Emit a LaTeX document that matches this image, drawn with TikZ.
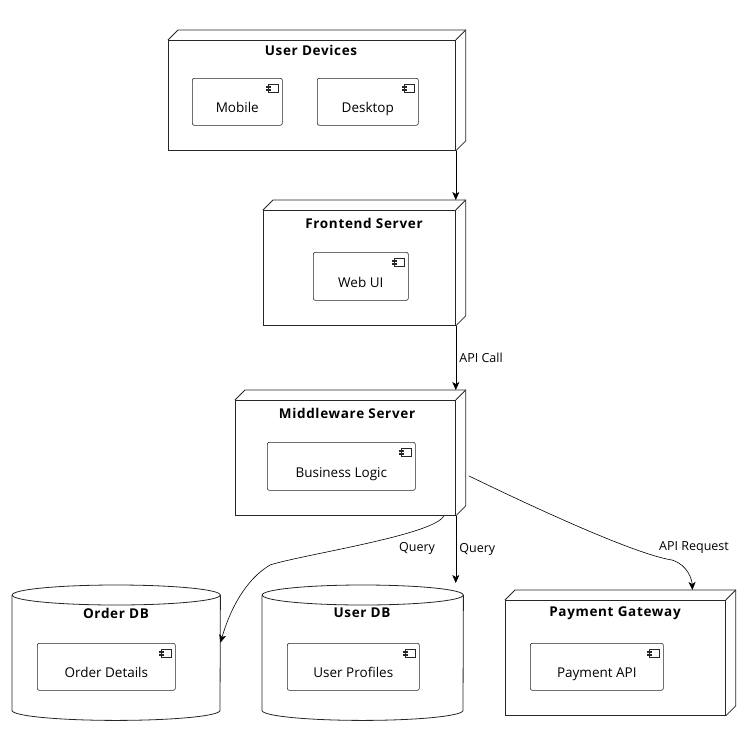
\documentclass[tikz,border=0pt]{standalone}
\usepackage{fontspec}
\setmainfont{Open Sans}
\usetikzlibrary{positioning,calc,arrows.meta}

\tikzset{
	box/.style={rectangle, draw=black!85, fill=white, thick, inner sep=0pt},
	comp/.style={rectangle, draw=black!85, semithick, rounded corners=2pt, fill=white, inner sep=0pt, text height=22pt, text depth=0pt, font=\fontsize{13.5}{16}\selectfont},
	title/.style={font=\fontsize{13.5}{16}\selectfont\bfseries\addfontfeatures{LetterSpace=5}},
	lbl/.style={font=\fontsize{12.5}{15}\selectfont},
	link/.style={-{Stealth[length=8pt,width=7pt,inset=2pt]}, semithick},
}
% extruded top and side of a node box
\newcommand{\depthbox}[1]{
	\draw[thick, black!85] (#1.north west) -- ++(10,-10) -- ($(#1.north east)+(10,-10)$) -- ($(#1.south east)+(10,-10)$) -- (#1.south east);
	\draw[thick, black!85] (#1.north east) -- ++(10,-10);
}
% small component glyph
\newcommand{\compicon}[1]{
	\draw[black!85, semithick] ($(#1.north east)+(-14,6)$) rectangle ++(10,8);
	\draw[black!85, fill=white] ($(#1.north east)+(-16,8)$) rectangle ++(4,1.5);
	\draw[black!85, fill=white] ($(#1.north east)+(-16,11)$) rectangle ++(4,1.5);
}
% database drum
\newcommand{\drum}[1]{
	\draw[thick, black!85] (#1.north west) -- (#1.south west) arc[start angle=180, end angle=360, x radius={0.5*\drumw}, y radius=10pt] -- (#1.north east);
	\draw[thick, black!85] (#1.north) ellipse[x radius={0.5*\drumw}, y radius=10pt];
}

\begin{document}
\begin{tikzpicture}[x=1pt, y=-1pt]
	\useasboundingbox (0,0) rectangle (750,750);

	% user devices
	\node [box, minimum width=287pt, minimum height=110pt, anchor=north west] (dev) at (168,40) {};
	\depthbox{dev}
	\node [title] (devt) at (311,50) {User Devices};
	\node [comp, minimum width=90pt, minimum height=47pt, anchor=north west] (mob) at (192,78) {Mobile};
	\node [comp, minimum width=101pt, minimum height=47pt, anchor=north west] (desk) at (317,78) {Desktop};
	\compicon{mob}
	\compicon{desk}

	% frontend
	\node [box, minimum width=192pt, minimum height=115pt, anchor=north west] (fe) at (263,210) {};
	\depthbox{fe}
	\node [title] (fet) at (364,223) {Frontend Server};
	\node [comp, minimum width=95pt, minimum height=48pt, anchor=north west] (web) at (313,252) {Web UI};
	\compicon{web}

	% middleware
	\node [box, minimum width=220pt, minimum height=115pt, anchor=north west] (mw) at (235,400) {};
	\depthbox{mw}
	\node [title] (mwt) at (347,413) {Middleware Server};
	\node [comp, minimum width=148pt, minimum height=48pt, anchor=north west] (biz) at (267,442) {Business Logic};
	\compicon{biz}

	% databases
	\def\drumw{208pt}
	\node [rectangle, minimum width=208pt, minimum height=115pt, anchor=north west, inner sep=0pt] (odb) at (12,595) {};
	\drum{odb}
	\def\drumw{201pt}
	\node [rectangle, minimum width=201pt, minimum height=115pt, anchor=north west, inner sep=0pt] (udb) at (262,595) {};
	\drum{udb}
	\node [title] (odbt) at (116,613) {Order DB};
	\node [title] (udbt) at (362,613) {User DB};
	\node [comp, minimum width=138pt, minimum height=47pt, anchor=north west] (ord) at (37,643) {Order Details};
	\node [comp, minimum width=132pt, minimum height=47pt, anchor=north west] (prof) at (287,643) {User Profiles};
	\compicon{ord}
	\compicon{prof}

	% payment
	\node [box, minimum width=220pt, minimum height=115pt, anchor=north west] (pay) at (505,600) {};
	\depthbox{pay}
	\node [title] (payt) at (615,613) {Payment Gateway};
	\node [comp, minimum width=133pt, minimum height=47pt, anchor=north west] (papi) at (530,643) {Payment API};
	\compicon{papi}

	% connectors
	\coordinate (devo) at (dev.south east);
	\coordinate (feo) at (fe.south east);
	\coordinate (mwo) at (mw.south east);
	\coordinate (mwl) at ($(mw.south east)+(-12,0)$);
	\coordinate (mwr) at ($(mw.east)+(13,18)$);
	\coordinate (fein) at ($(fe.north east)+(-10,-10)$);
	\coordinate (mwin) at ($(mw.north east)+(-3,-10)$);
	\coordinate (udbin) at ($(udb.north east)+(-8,-12)$);
	\coordinate (odbin) at ($(odb.east)+(0,-10)$);
	\coordinate (payin) at ($(pay.north)+(77,-10)$);
	\draw[link] (devo) -- (devo |- fein);
	\draw[link] (feo) -- node[lbl, right] {API Call} (feo |- mwin);
	\draw[link] (mwo) -- node[lbl, right, pos=0.5] {Query} (mwo |- udbin);
	\draw[link] (mwl) .. controls (435,535) and (300,555) .. (270,565) .. controls (245,580) and (230,610) .. (odbin);
	\node [lbl] (q1) at (417,548) {Query};
	\draw[link] (mwr) .. controls (560,520) and (640,555) .. (672,560) .. controls (688,565) and (692,580) .. (payin);
	\node [lbl] (apir) at (694,548) {API Request};
\end{tikzpicture}
\end{document}
